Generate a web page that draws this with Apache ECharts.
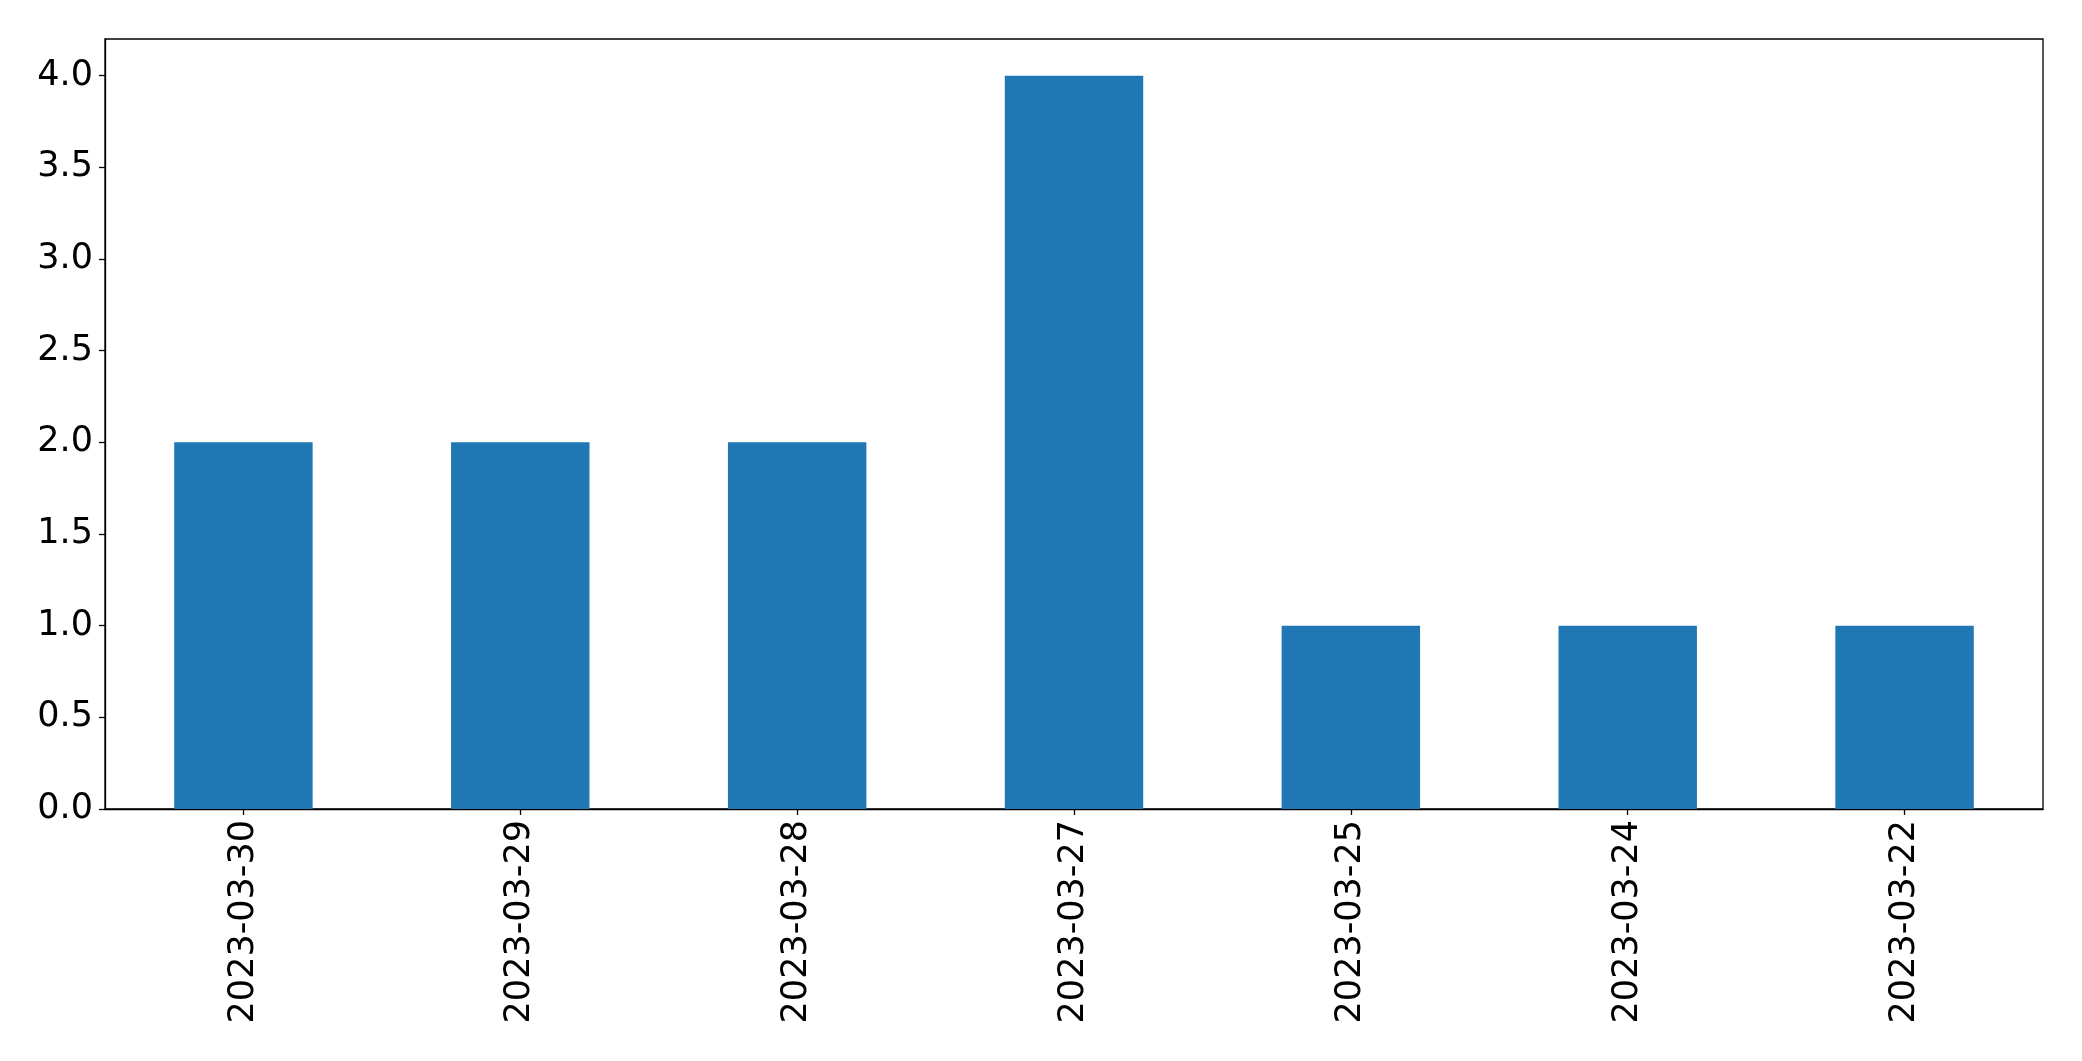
<!DOCTYPE html>
<html>
<head>
<meta charset="utf-8">
<script src="https://cdn.jsdelivr.net/npm/echarts@6/dist/echarts.min.js"></script>
<style>html,body{margin:0;padding:0;background:#fff}#c{width:2082px;height:1061px}</style>
</head>
<body>
<div id="c"></div>
<script>
const categories = ['2023-03-30','2023-03-29','2023-03-28','2023-03-27','2023-03-25','2023-03-24','2023-03-22'];
const counts = [2, 2, 2, 4, 1, 1, 1];
const yTicks = [0, 0.5, 1, 1.5, 2, 2.5, 3, 3.5, 4];

const chart = echarts.init(document.getElementById('c'), null, {renderer: 'canvas'});
chart.setOption({
  animation: false,
  backgroundColor: '#fff',
  grid: {left: 105, right: 39, top: 39, bottom: 252, show: true, borderColor: '#000', borderWidth: 1.3, backgroundColor: 'transparent'},
  xAxis: {
    type: 'category',
    data: categories,
    boundaryGap: true,
    axisLine: {show: true, lineStyle: {color: '#000', width: 1.3}},
    axisTick: {show: true, alignWithLabel: true, length: 6, lineStyle: {color: '#000', width: 1.3}},
    axisLabel: {rotate: 90, fontSize: 35, color: '#000', fontFamily: 'DejaVu Sans', margin: 11, interval: 0},
    splitLine: {show: false}
  },
  yAxis: {
    type: 'value',
    min: 0, max: 4.2, interval: 0.5,
    axisLine: {show: true, lineStyle: {color: '#000', width: 1.3}},
    axisTick: {show: true, length: 6, lineStyle: {color: '#000', width: 1.3}, customValues: yTicks},
    axisLabel: {fontSize: 35, color: '#000', fontFamily: 'DejaVu Sans', margin: 12, customValues: yTicks, formatter: v => v.toFixed(1)},
    splitLine: {show: false}
  },
  series: [{
    type: 'bar',
    data: counts,
    barWidth: '50%',
    itemStyle: {color: '#1f77b4'}
  }]
});
</script>
</body>
</html>
